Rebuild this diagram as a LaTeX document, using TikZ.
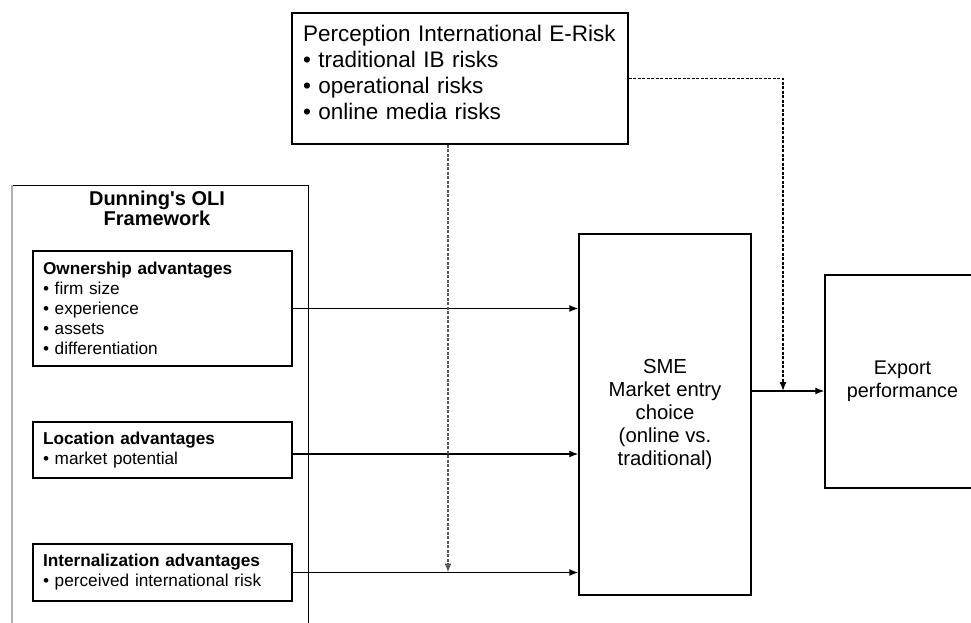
\documentclass[tikz,border=0pt]{standalone}
\usepackage{fontspec}
\setmainfont{Liberation Sans}
\usetikzlibrary{positioning,arrows.meta}

\begin{document}
\begin{tikzpicture}[x=1pt,y=-1pt,
  box/.style={draw,line width=1.4pt,inner xsep=10pt,inner ysep=0pt,align=left},
  link/.style={-{Latex[length=9pt,width=7pt]},line width=1.3pt},
  risklink/.style={link,dash pattern=on 3pt off 1.5pt}]

\useasboundingbox (0,0) rectangle (971,623);

% OLI framework frame (runs off the bottom)
\node (oli) [draw,line width=1.4pt,minimum width=296pt,minimum height=480pt,anchor=north west] at (12,185) {};
\draw[gray!60,line width=2.5pt] (oli.north west) -- (oli.south west);
\node (olititle) [align=center,font=\bfseries\fontsize{20}{20}\selectfont] at (157,208) {Dunning\textquotesingle s OLI\\Framework};

% The three advantages
\node (own) [box,text width=239pt,minimum height=115pt,font=\fontsize{17.2}{20}\selectfont] at (162.5,308.5)
  {\textbf{Ownership advantages}\\• firm size\\• experience\\• assets\\• differentiation};
\node (loc) [box,text width=239pt,minimum height=56pt,font=\fontsize{17.2}{20}\selectfont] at (162.5,450)
  {\textbf{Location advantages}\\• market potential};
\node (intl) [box,text width=239pt,minimum height=57pt,font=\fontsize{17.2}{20}\selectfont] at (162.5,572.5)
  {\textbf{Internalization advantages}\\• perceived international risk};

% Perceived risk
\node (risk) [box,inner xsep=11pt,text width=314pt,minimum height=131pt,font=\fontsize{22.5}{26.3}\selectfont] at (460,78.5)
  {Perception International E-Risk\\• traditional IB risks\\• operational risks\\• online media risks\\[-14pt]\mbox{}};

% Entry choice and outcome
\node (sme) [box,align=center,minimum width=172pt,minimum height=361pt,font=\fontsize{20.3}{23}\selectfont] at (665,414.5)
  {SME\\Market entry\\choice\\(online vs.\\traditional)};
\node (exp) [box,align=center,minimum width=155pt,minimum height=213pt,font=\fontsize{19.8}{23}\selectfont] at (902.5,381.5)
  {Export\\performance};

\coordinate (drop) at ([xshift=-12pt]risk.south |- intl.east);
\coordinate (tap) at (783,391);

% Connectors
\draw[link] (own.east) -- (own.east -| sme.west);
\draw[link] ([yshift=-4pt]loc.east) -- ([yshift=-4pt]loc.east -| sme.west);
\draw[link] (intl.east) -- (intl.east -| sme.west);
\draw[link] (sme.east |- tap) -- (tap -| exp.west);
\draw[risklink,black!65] (drop |- risk.south) -- (drop); % moderates internalization
\draw[risklink] (risk.east) -| (tap); % moderates performance

\end{tikzpicture}
\end{document}
